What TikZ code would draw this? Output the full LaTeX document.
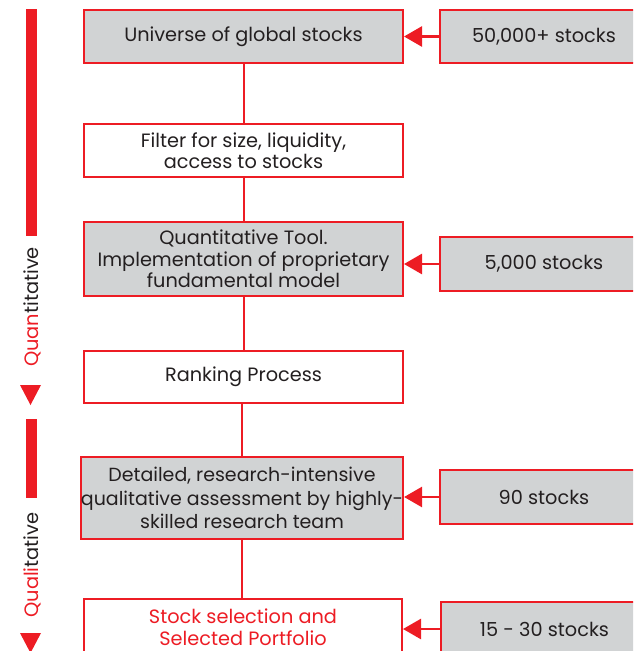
\documentclass[tikz,border=0pt]{standalone}
\usepackage{fontspec}
\setmainfont{Poppins}
\usetikzlibrary{arrows.meta}
\definecolor{cred}{HTML}{ED1C24}
\definecolor{cgray}{HTML}{D1D3D4}
\definecolor{ctext}{HTML}{231F20}
\tikzset{
  box/.style={draw=cred, line width=2pt, inner sep=0pt, align=center, text=ctext,
    font=\fontsize{19.3}{21.5}\selectfont},
  graybox/.style={box, fill=cgray},
  whitebox/.style={box, fill=white},
  link/.style={draw=cred, line width=2pt},
  feed/.style={draw=cred, line width=2.6pt, -{Triangle[length=18pt,width=20pt]}},
  sidelabel/.style={rotate=90, text=ctext, inner sep=0pt, font=\fontsize{19.4}{21}\selectfont},
}
\begin{document}
\begin{tikzpicture}[x=1pt,y=-1pt]
\useasboundingbox (0,0) rectangle (633,651);
\clip (0,0) rectangle (633,651);
% left column boxes
\node[graybox, minimum width=319pt, minimum height=53pt] (b1) at (243.5,36.5) {Universe of global stocks};
\node[whitebox, minimum width=319pt, minimum height=53pt] (b2) at (243.5,150.5) {Filter for size, liquidity,\\access to stocks};
\node[graybox, minimum width=319pt, minimum height=74pt] (b3) at (243.5,259) {Quantitative Tool.\\Implementation of proprietary\\fundamental model};
\node[whitebox, minimum width=319pt, minimum height=52pt] (b4) at (243.5,377) {Ranking Process};
\node[graybox, minimum width=320pt, minimum height=82pt, font=\fontsize{19}{23.5}\selectfont] (b5) at (242,498) {Detailed, research-intensive\\qualitative assessment by highly-\\skilled research team};
\node[whitebox, minimum width=318pt, minimum height=61pt] (b6) at (243,629.5) {};
\node[box, draw=none, text=cred, font=\fontsize{19.3}{22}\selectfont] (b6t) at (243,627) {Stock selection and\\Selected Portfolio};
% right column boxes
\node[graybox, minimum width=208pt, minimum height=53pt] (r1) at (544,36.5) {50,000+ stocks};
\node[graybox, minimum width=208pt, minimum height=54pt] (r3) at (544,264) {5,000 stocks};
\node[graybox, minimum width=208pt, minimum height=54pt] (r5) at (544,497) {90 stocks};
\node[graybox, minimum width=207pt, minimum height=54pt] (r6) at (544.5,629) {15 - 30 stocks};
% vertical connectors
\draw[link] (b1) -- (b2);
\draw[link] (b2) -- (b3);
\draw[link] (b3) -- (b4);
\draw[link] (b4.south -| b5.north) -- (b5);
\draw[link] (b5.south) -- (b5.south |- b6.north);
% feed arrows
\draw[feed] (r1.west) -- (b1.east);
\draw[feed] (r3.west) -- (r3.west -| b3.east);
\draw[feed] (r5.west) -- (r5.west -| b5.east);
\draw[feed] (r6.west) -- (r6.west -| b6.east);
% left side indicators
\fill[cred] (26,9) rectangle (37,236);
\node[sidelabel] (t1) at (32,307) {\textcolor{cred}{Quan}titative};
\fill[cred] (20,385) -- (41,385) -- (30.5,405) -- cycle;
\fill[cred] (26,419) rectangle (37,498);
\node[sidelabel] (t2) at (32,565) {\textcolor{cred}{Quali}tative};
\fill[cred] (20,633) -- (41,633) -- (30.5,653) -- cycle;
\end{tikzpicture}
\end{document}
